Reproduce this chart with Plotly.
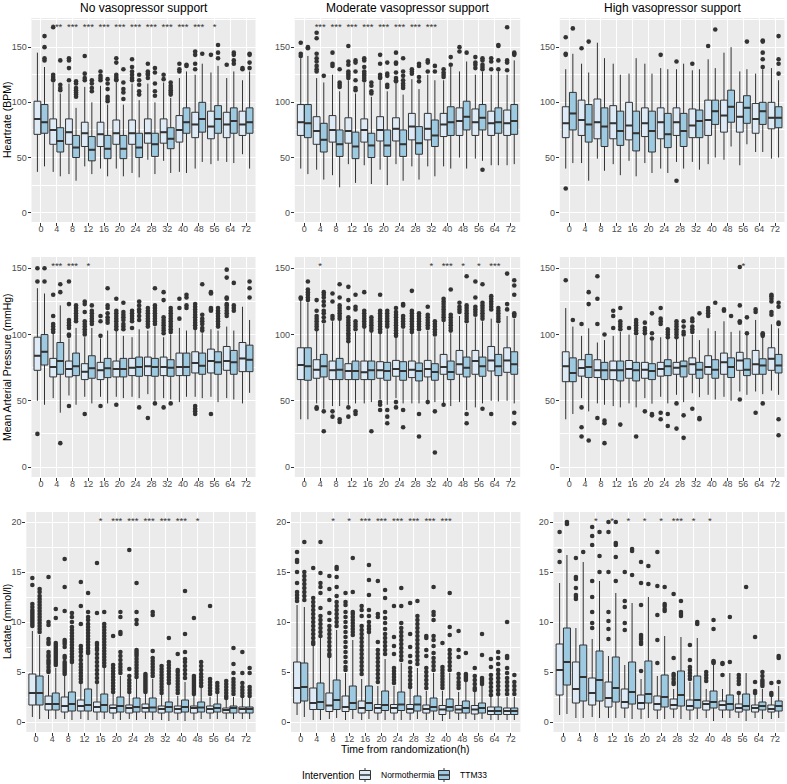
import plotly.graph_objects as go

TIMES = ["0", "4", "8", "12", "16", "20", "24", "28", "32", "40", "48", "56", "64", "72"]
GROUPS = ["Normothermia", "TTM33"]
LEGEND_TITLE = "Intervention"
PANEL_TITLES = ["No vasopressor support", "Moderate vasopressor support", "High vasopressor support"]
ROW_TITLES = ["Heartrate (BPM)", "Mean Arterial Pressure (mmHg)", "Lactate (mmol/l)"]
X_TITLE = "Time from randomization(h)"

# box stats per time point: [lower whisker, q1, median, q3, upper whisker]
HR_NONE_NORMO = [[37,71,85,101,145],[37,62,75,85,118],[35,62,73,85,117],[42,60,72,82,114],[40,60,71,82,115],[40,62,72,84,118],[36,62,72,84,117],[48,63,72,85,117],[47,63,73,85,118],[37,64,75,88,122],[40,68,80,91,125],[44,67,78,92,127],[46,68,80,91,122],[53,70,80,92,120]]
HR_NONE_NORMO_OUT = [[],[168,125,123,121,120],[140,138,131,120],[142,126,122,120],[128,124,122,120],[140,136,125,123,121,120],[139,132,128,125,122,120],[135,128,126,125,122],[125,121],[135,130,128],[146,143,135,130],[143],[134],[131,130]]
HR_NONE_TTM = [[42,72,82,98,132],[33,55,65,77,108],[29,50,59,70,95],[35,47,57,69,100],[33,49,58,70,98],[33,49,58,70,98],[32,50,59,72,102],[35,51,62,72,100],[36,58,67,77,104],[36,72,82,95,128],[46,73,85,100,135],[47,72,85,97,133],[45,72,83,95,128],[40,72,82,95,128]]
HR_NONE_TTM_OUT = [[160,150,140,138],[138,116,113,111],[119,117,113,111,109,107,105],[120,117,113,110],[121,117,112,105,103,101],[130,118,112,109,103],[125,120,116,110,107],[131,127,117,110,106],[118,115,113,111,109,107],[134,133],[144],[152,145,140],[145,143,138,135],[144,143,136,131]]
HR_NONE_STARS = ["","***","***","***","***","***","***","***","***","***","***","*","",""]

HR_MOD_NORMO = [[40,70,82,98,140],[39,62,74,87,122],[34,64,75,88,125],[44,63,74,86,120],[43,64,75,85,118],[39,65,75,87,120],[44,65,76,86,117],[42,66,78,90,121],[42,66,76,90,125],[42,69,80,90,120],[50,70,83,95,128],[49,70,82,94,125],[43,70,81,92,125],[43,70,81,93,125]]
HR_MOD_NORMO_OUT = [[154,144,142],[163,158,144,140,137,133,130,128],[145,135,133],[151,137,134,128,126,124,122],[140,138,132,128,126,124,122,120],[143,135,125,123,122],[145,136,135,127,122,120,119],[130,128,126],[138,136,128],[130,127,125,123],[150,146],[141,136,134,131],[140,137,130],[168,138,136,129]]
HR_MOD_TTM = [[35,68,81,98,142],[30,55,66,81,118],[23,51,62,75,110],[27,49,60,73,108],[26,50,61,72,105],[25,51,61,75,110],[29,51,62,75,107],[30,53,63,78,112],[33,60,70,84,120],[40,70,82,96,132],[40,75,87,101,137],[47,75,86,98,128],[43,72,82,95,128],[44,71,83,98,138]]
HR_MOD_TTM_OUT = [[150,149],[124],[130,118,116,114],[138,136,128,120,113,111],[118,115,110,108],[136,126,124,116,114],[140,128,124,120,117,115,113],[135,133,123,119],[133,128],[141,134],[145],[140,138,134,132,130,39],[152,151,138,130],[145,144,143]]
HR_MOD_STARS = ["","***","***","***","***","***","***","***","***","","","","",""]

HR_HIGH_NORMO = [[40,68,81,96,130],[45,70,84,102,135],[49,67,82,103,154],[44,67,81,97,135],[47,66,79,100,126],[45,69,81,95,135],[40,67,82,95,131],[46,70,82,95,130],[46,68,79,94,129],[44,70,84,102,139],[48,73,88,102,145],[43,73,87,100,128],[55,72,85,99,126],[49,76,86,100,131]]
HR_HIGH_NORMO_OUT = [[159,144,143,22],[149],[],[],[],[],[143],[137,29],[135],[151],[],[],[],[]]
HR_HIGH_TTM = [[45,75,90,109,144],[29,64,80,98,127],[38,60,78,95,140],[34,61,74,92,125],[33,56,72,92,140],[36,55,74,92,126],[36,59,71,90,130],[40,60,74,90,135],[39,68,83,93,130],[50,80,92,102,131],[60,82,96,111,150],[62,81,95,106,130],[55,80,92,100,130],[50,77,86,96,120]]
HR_HIGH_TTM_OUT = [[167],[155],[],[],[],[],[],[],[],[166],[],[155],[156,155,145,139,132],[160,139,135,126]]
HR_HIGH_STARS = [""] * 14

MAP_NONE_NORMO = [[50,73,84,98,135],[52,68,75.5,82,101],[54,68,74,80,97],[53,66,72,78,98],[53,66,73,79,97],[53,68,74,80,103],[53,69,75,82,98],[55,69,76,83,103],[52,69,75.5,83,98],[49,69,75.5,86,105],[53,71,78.5,87,104],[53,71,80,89,104],[52,73,80,91,106],[48,72,82,94,121]]
MAP_NONE_NORMO_OUT = [[150,140,25],[130,114,108,106,104,102],[140,123,111,109,107,105,100,99,46],[125,123,117,110,108,106,104,102,100,40],[114,110,99,46],[127,118,116,114,112,110,108,106,104,47],[118,116,114,112,110,105],[120,118,116,114,112,110,108,106,37],[132,126,113,111,109,107,105,103,101,45],[127,120,112],[123,121,119,117,115,113,111,109,107,105,46,44,42,40],[132,131,120,119,118,40],[149,143,128,127,123,122,120,118,116,114],[]]
MAP_NONE_TTM = [[47,77,87,100,131],[41,70,80,94,122],[47,69,76,86,105],[48,67,74.5,84,105],[48,67.5,74.5,82,103],[52,68,74,82,99],[52,68.5,75.5,83,104],[50,68.5,75.5,82,106],[51,68.5,75,81,100],[53,69,75.5,86,103],[52,70,76.5,86,101],[49,70,79,87,103],[51,70,79,88,103],[56,72,81,92,111]]
MAP_NONE_TTM_OUT = [[150,140],[138,132,18],[122,120,118,116,114,112,110],[122,118,116,114,112,110,108],[135,122,120,116,113,111,109],[124,117,115,113,111,108,106,104],[125,122,119,117,114,111,45],[135,122,120,118,116,114,112,110,108,48],[120,118,116,114,112,110,108,106,104,102,48],[130,128,122,120],[138,115,112,110,108,105,103],[120,118,116,114,112,110,108,106],[139,122,120,118],[140,135,128]]
MAP_NONE_STARS = ["","***","***","*","","","","","","","","","",""]

MAP_MOD_NORMO = [[36,66,77,90,126],[48,67,73.5,81,103],[46,66,73,80,110],[47,66,72.5,78,94],[48,66,71.5,80,105],[51,67,73,79.5,101],[52,68.5,74,80.5,98],[48,67.5,73.5,80,101],[50,68,74,80.5,103],[48,70,75.5,85,110],[49,70,77.5,88,114],[45,70,80,88,113],[50,72.5,80.5,91,112],[50,71.5,80.5,90,114]]
MAP_MOD_NORMO_OUT = [[128,127],[126,118,114,112,110,108,106,104,45,44],[131,125,114,112,42,38],[136,126,120,113,111,109,107,105,103,101,99,97,95,45,38],[132,118,116,114,112,110,108,106],[130,118,116,114,112,110,108,106,104,102,49,47,43],[120,117,115,113,111,109,107,105,103,101,99,49,45],[133,118,116,114,112,110,108,106,104,102],[121,115,113,111,109,107,105,49],[127,125,123,121,119,117,115,113,111,47],[124,121,119,117],[140,128,121,119,117,115],[129,127,125,123,121,119,40],[146,123,119]]
MAP_MOD_TTM = [[36,65.5,76,90,124],[44,68,76,85,108],[46,66,73.5,82,111],[48,66,72.5,80,102],[49,66,73,80,102],[47,65.5,72.5,79,104],[48,65.5,72.5,79.5,104],[48,65,72.5,78.5,102],[49,65.5,71.8,78,98],[46,66,71.8,80,101],[43,68,75,83,108],[48,68.5,76,83,110],[49.5,69,76,85,108],[48,70,77.5,87,112]]
MAP_MOD_TTM_OUT = [[140,134,132,130,128,126],[132,130,128,125,122,118,116,113,110,42,27],[138,128,122,120,118,116,114,112,36,34],[130,121,119,110,108,106,104,42,40],[113,111,109,107,105,103,27],[118,116,114,112,110,108,106,43,38,33],[123,122,114,112,110,108,106,43,30],[116,114,112,110,108,106,104,40,23],[110,108,106,104,102,100,42,11],[134,115,113,111,109,107,105,103],[144,122,120,118,116,114,112,110,40,33],[138,124,122,120,118,116,114,112,44],[120,118,116,114,112,110],[141,137,130,116,115,114,41,33]]
MAP_MOD_STARS = ["","*","","","","","","","*","***","*","*","***",""]

MAP_HIGH_NORMO = [[36,64.4,76,87,120],[52,68.6,74.7,81,99],[48,67.6,73,81,94],[46,66,73,80,99],[48,67,74,80.4,100],[52,67,73.5,79,100],[53,68.6,74,79,98],[54.5,70,75,79,97],[55.7,70,77.5,82.4,99.8],[54.5,70,75.5,84,104.7],[53,70,79,86,110],[57,73,80.4,86.6,103],[57,70,77.5,88,111],[57.7,73,81.7,90,107.7]]
MAP_HIGH_NORMO_OUT = [[141],[108,45,30,23],[144,127,108,37],[118,114,105],[105],[109,105,103,101,42],[120,112,110,108,41,36],[110,108,106,104,102,100,98,48,29],[112,110,106,104,102,44],[120,118,116,114],[119,118],[151,122,110,109,51],[119,117,41],[130,129,127,125,117,115]]
MAP_HIGH_TTM = [[40,64.4,71,82.4,106],[42,67.6,75.5,85,104.7],[47,66,73,79,95.8],[45,65,73,80,102],[45,65,73,79,99],[47.8,66,72.5,78,95.8],[48,69,76,81,97],[49,68,76,80,98],[52.7,67,73.5,79,95.8],[51,67,73.5,81,102.7],[50,67.6,75.5,82.4,102],[54.5,69,73.5,81.7,100],[55,70,76.7,81.7,98],[54.5,71,76.7,85,104.7]]
MAP_HIGH_TTM_OUT = [[111],[132,123,20],[100,35,33,18],[120,110,108,106,104,32],[111,109,107,105,103,101,23],[116,101,97,40,39],[104,102,100,98,40,31],[110,106,102,100,39,22],[116,37,36],[124],[114],[113,101],[101,100,99,48],[124,121,109,108,36,24]]
MAP_HIGH_STARS = ["","","","","","","","","","","","*","",""]

LAC_NONE_NORMO = [[0.5,1.7,2.9,4.8,9.1],[0.3,1.2,1.8,2.6,4.7],[0.3,1.0,1.6,2.5,4.6],[0.3,1.1,1.6,2.2,3.9],[0.2,1.0,1.5,2.0,3.8],[0.3,0.9,1.4,1.7,2.8],[0.3,0.9,1.4,1.7,2.8],[0.3,1.0,1.4,1.8,2.8],[0.2,0.9,1.3,1.6,2.7],[0.2,0.9,1.3,1.6,2.6],[0.2,0.9,1.4,1.6,2.7],[0.3,0.9,1.3,1.6,2.5],[0.3,0.9,1.2,1.4,2.2],[0.3,0.9,1.3,1.5,2.4]]
LAC_NONE_NORMO_OUT = [[14.4,13.7,11.8,11.5,11.2,11.0,10.8,10.6,10.4,10.2,10.0,9.8,9.6],[14.5,10.0,9.7,8.3,8.0,7.8,7.0,6.7,6.5,6.2,6.0,5.8,5.5,5.2,5.0],[16.3,13.5,11.1,8.2,8.0,7.8,7.5,6.6,6.4,6.0,5.8,5.6,5.4,5.2,5.0,4.8],[14.0,11.6,9.8,7.6,7.3,7.0,6.6,6.2,5.8,5.5,5.2,4.9,4.6,4.3,4.0],[15.9,10.9,7.9,7.7,7.4,7.2,6.8,6.4,6.0,5.6,5.2,4.8,4.4,4.0],[8.6,5.7,5.4,5.1,4.8,4.5,4.2,3.9,3.6,3.3,3.0],[17.2,5.3,4.6,4.2,3.9,3.6,3.3,3.0],[4.8,4.6,4.4,4.2,4.0,3.8,3.6,3.4,3.2,3.0],[5.6,5.3,5.0,4.7,4.4,4.1,3.8,3.5,3.2,2.9],[6.8,5.2,5.0,4.7,4.4,4.1,3.8,3.5,3.2,2.9],[10.4,4.6,4.4,4.2,4.0,3.8,3.6,3.4,3.2,3.0,2.8],[11.6,4.3,4.0,3.7,3.4,3.1,2.8],[4.1,3.8,3.5,3.2,2.9,2.6,2.4],[7.0,4.9,3.9,3.5,3.2,2.9,2.6]]
LAC_NONE_TTM = [[0.3,1.7,2.9,4.6,8.7],[0.3,1.2,1.8,2.9,5.4],[0.2,1.1,1.8,3.0,5.8],[0.2,1.1,1.7,3.3,6.7],[0.3,1.0,1.7,2.8,5.5],[0.2,1.0,1.6,2.5,4.6],[0.2,1.0,1.5,2.4,4.3],[0.2,1.0,1.45,2.4,4.3],[0.1,1.0,1.5,2.0,3.7],[0.1,1.0,1.5,2.2,4.0],[0.3,1.0,1.45,2.0,3.5],[0.3,1.0,1.4,1.8,2.8],[0.3,0.9,1.4,1.6,2.5],[0.3,0.9,1.3,1.5,2.4]]
LAC_NONE_TTM_OUT = [[13.3,13.0,12.6,12.3,12.0,11.7,11.4,11.1,10.8,10.5,10.2,9.9,9.6,9.3,9.0],[11.3,10.4,7.9,7.7,7.5,7.3,7.1,6.9,6.7,6.5,6.3,6.1,5.9,5.7],[10.9,10.5,10.0,9.5,9.2,8.9,8.6,8.3,8.0,7.7,7.4,7.1,6.8,6.5,6.2,6.0],[12.9,11.0,10.5,10.2,9.8,9.5,9.2,8.9,8.6,8.3,8.0,7.7,7.4,7.1,6.9],[11.0,9.8,9.5,9.2,8.9,8.6,8.3,8.0,7.7,7.4,7.1,6.8,6.5,6.2,5.9,5.6],[11.0,10.5,9.0,8.8,7.0,6.6,6.2,5.8,5.5,5.2,4.9],[13.9,11.0,10.2,9.8,7.2,7.0,6.8,6.6,6.3,6.0,5.7,5.4,5.1,4.8,4.5],[11.0,10.7,7.1,6.4,6.1,5.8,5.5,5.2,4.9,4.6],[8.4,6.0,5.7,5.4,5.1,4.8,4.5,4.2,3.9],[13.1,8.8,7.0,6.3,6.0,5.6,5.2,4.8,4.4],[6.0,5.6,5.2,4.8,4.5,4.2,3.9,3.6],[3.9,3.6,3.3,3.0],[7.4,5.8,4.9,4.3,4.0,3.7,3.4,3.1,2.8],[5.4,4.9,3.5,3.2,2.9,2.6]]
LAC_NONE_STARS = ["","","","","*","***","***","***","***","***","*","","",""]

LAC_MOD_NORMO = [[0.7,1.9,3.4,6.0,11.7],[0.2,1.25,1.9,3.4,7.6],[0.3,1.05,1.65,2.9,6.4],[0.2,1.05,1.5,2.6,4.9],[0.2,0.9,1.4,2.1,4.3],[0.2,0.9,1.4,1.75,3.6],[0.2,0.9,1.4,1.75,3.6],[0.2,0.9,1.3,1.75,3.3],[0.2,0.9,1.3,1.7,3.1],[0.1,0.75,1.25,1.65,3.1],[0.2,0.9,1.25,1.65,3.0],[0.2,0.8,1.25,1.65,3.0],[0.2,0.75,1.1,1.5,2.5],[0.2,0.75,1.1,1.4,2.5]]
LAC_MOD_NORMO_OUT = [[17.0,16.2,16.0,15.0,13.9,13.0,12.7,12.4,12.1],[15.4,12.4,12.0,11.6,11.2,10.8,10.4,10.0,9.6,9.2,8.8,8.4,8.0,7.8],[14.6,13.3,12.2,10.9,10.2,9.6,9.2,8.8,8.4,8.0,7.6,7.2,6.8,6.6],[12.9,12.0,11.7,11.0,10.5,10.0,9.5,9.0,8.5,8.0,7.5,7.0,6.5,6.0,5.5,5.2],[11.6,11.2,10.6,9.6,9.2,8.8,8.4,8.0,7.6,7.2,6.8,6.4,6.0,5.6,5.2,4.8],[14.1,10.8,10.5,8.0,7.2,6.8,6.4,6.0,5.6,5.2,4.8,4.4,4.0],[11.6,8.5,7.6,6.8,5.4,5.1,4.8,4.5,4.2,3.9],[11.9,8.8,7.5,6.6,6.0,5.4,5.0,4.6,4.2,3.8,3.5],[8.6,8.4,7.2,6.6,5.4,5.0,4.6,4.2,3.8,3.4],[7.9,5.5,5.2,4.9,4.6,4.3,4.0,3.7,3.4],[9.1,7.2,6.5,4.8,4.4,4.0,3.7,3.4],[5.4,4.6,4.2,3.8,3.4,3.2],[6.3,5.5,4.7,4.3,3.9,3.5,3.1,2.7],[10.0,6.6,6.4,5.4,4.9,4.4,4.0,3.6,3.2,2.8]]
LAC_MOD_TTM = [[0.5,2.1,3.5,5.9,11.5],[0.2,1.25,2.0,3.9,8.4],[0.4,1.25,2.2,4.2,9.2],[0.3,1.25,1.9,3.6,8.2],[0.3,1.15,1.9,3.6,8.8],[0.2,1.15,1.7,3.1,6.3],[0.2,1.15,1.75,3.0,5.9],[0.3,1.1,1.75,2.6,5.4],[0.2,1.1,1.5,2.4,4.9],[0.3,1.1,1.5,2.3,4.9],[0.3,0.9,1.4,2.1,4.0],[0.3,0.9,1.4,1.9,3.6],[0.2,0.75,1.1,1.5,2.6],[0.2,0.75,1.1,1.4,2.5]]
LAC_MOD_TTM_OUT = [[18.0,15.0,14.6,14.2,13.8,13.4,13.0,12.6,12.2],[18.0,14.9,13.9,13.5,12.9,11.4,10.6,10.2,9.8,9.4,9.0,8.6],[15.5,15.3,14.5,13.5,12.6,12.0,11.6,11.2,10.8,10.4,10.0,9.6],[16.4,13.0,11.0,10.8,10.5,10.2,9.9,9.6,9.3,9.0,8.7],[15.7,14.2,12.7,11.2,10.6,10.0,9.6,9.3,9.0],[13.2,12.4,11.0,10.4,9.9,9.3,8.8,8.4,8.0,7.6,7.2,6.8],[13.4,11.6,9.9,9.4,9.0,8.6,8.2,7.8,7.4,7.0,6.6,6.2],[12.1,10.6,10.2,9.8,9.4,9.0,8.6,8.2,7.8,7.4,7.0,6.6,6.2,5.8],[13.5,11.0,10.7,10.2,8.6,8.2,7.6,6.9,6.4,6.0,5.6,5.2],[12.9,9.5,8.7,7.2,6.8,6.4,6.0,5.6,5.2],[6.9,4.8,4.6,4.4,4.2],[8.8,6.7,4.4,4.2,4.0,3.8],[7.0,6.4,5.8,5.2,4.8,4.4,4.0,3.6,3.2,2.8],[4.7,4.0,3.6,3.2,2.8]]
LAC_MOD_STARS = ["","","*","*","***","***","***","***","***","***","","","",""]

LAC_HIGH_NORMO = [[0.7,2.7,5.2,7.8,13.9],[0.4,1.9,3.3,6.0,9.4],[0.5,1.7,2.9,4.4,8.3],[0.4,1.5,2.4,4.0,6.6],[0.4,1.4,2.0,3.3,5.7],[0.3,1.3,1.9,2.7,4.3],[0.3,1.2,1.8,2.6,4.6],[0.4,1.3,1.7,2.3,3.3],[0.2,1.2,1.6,2.2,4.0],[0.4,1.2,1.8,2.1,3.3],[0.4,1.2,1.7,2.1,3.3],[0.4,1.0,1.4,1.8,2.7],[0.4,1.0,1.4,1.7,2.7],[0.3,1.0,1.3,1.7,2.6]]
LAC_HIGH_NORMO_OUT = [[19.0,17.1,16.0],[16.4,14.5,14.3,13.4,12.7,12.5,12.3],[19.5,18.6,17.7,14.1,12.5,11.0,9.9,9.4],[20.0,19.0,15.0,11.0,10.1,9.3,8.3],[15.0,12.1,11.5,9.9,9.2],[16.0,13.9,11.7,8.7,8.5,8.3,8.0,7.8,5.1],[17.0,13.6,10.7,8.2,5.9],[12.8,6.4,4.8,4.6,4.3,4.0,3.8],[7.7,6.2,5.5,5.2,4.9,4.6,4.3],[5.0,4.7,4.4,4.1],[5.9,5.8,4.7],[4.7,4.4,4.1,3.8,2.9],[8.5,4.0,3.1,2.9],[3.9,2.9,2.7]]
LAC_HIGH_TTM = [[0.8,3.7,6.0,9.4,16.7],[0.4,2.1,4.5,7.7,16.0],[0.4,2.1,4.2,7.1,14.1],[0.4,2.0,3.4,6.5,12.9],[0.3,1.8,3.0,6.0,11.9],[0.4,1.9,2.8,6.1,12.5],[0.3,1.5,2.5,4.7,8.6],[0.3,1.6,2.7,5.1,8.5],[0.3,1.4,2.2,4.6,8.4],[0.1,1.4,2.0,3.1,5.7],[0.4,1.2,1.8,2.7,4.9],[0.1,1.2,1.6,2.8,4.9],[0.3,1.2,1.6,2.0,3.3],[0.4,1.1,1.6,2.1,3.6]]
LAC_HIGH_TTM_OUT = [[20.0,19.8],[17.0],[19.0,16.6,15.0],[20.0,17.9,17.7,16.5,14.1],[17.3,17.1,14.7],[15.6,13.8],[13.5,11.8,11.6,11.3,11.1],[12.1,11.0,10.8,10.6],[10.0,9.8],[10.2,9.3,6.1,6.0,5.9],[10.5,6.0],[13.5],[5.0,4.6,4.2,4.0,3.8,3.6],[6.6,6.4,4.0]]
LAC_HIGH_STARS = ["","","*","*","*","*","*","***","*","*","","","",""]

PANELS = [
    [(HR_NONE_NORMO, HR_NONE_NORMO_OUT, HR_NONE_TTM, HR_NONE_TTM_OUT, HR_NONE_STARS),
     (HR_MOD_NORMO, HR_MOD_NORMO_OUT, HR_MOD_TTM, HR_MOD_TTM_OUT, HR_MOD_STARS),
     (HR_HIGH_NORMO, HR_HIGH_NORMO_OUT, HR_HIGH_TTM, HR_HIGH_TTM_OUT, HR_HIGH_STARS)],
    [(MAP_NONE_NORMO, MAP_NONE_NORMO_OUT, MAP_NONE_TTM, MAP_NONE_TTM_OUT, MAP_NONE_STARS),
     (MAP_MOD_NORMO, MAP_MOD_NORMO_OUT, MAP_MOD_TTM, MAP_MOD_TTM_OUT, MAP_MOD_STARS),
     (MAP_HIGH_NORMO, MAP_HIGH_NORMO_OUT, MAP_HIGH_TTM, MAP_HIGH_TTM_OUT, MAP_HIGH_STARS)],
    [(LAC_NONE_NORMO, LAC_NONE_NORMO_OUT, LAC_NONE_TTM, LAC_NONE_TTM_OUT, LAC_NONE_STARS),
     (LAC_MOD_NORMO, LAC_MOD_NORMO_OUT, LAC_MOD_TTM, LAC_MOD_TTM_OUT, LAC_MOD_STARS),
     (LAC_HIGH_NORMO, LAC_HIGH_NORMO_OUT, LAC_HIGH_TTM, LAC_HIGH_TTM_OUT, LAC_HIGH_STARS)],
]

# ---------------- layout / styling ----------------
W, H = 787, 784
FONT = "Liberation Sans, Arial, sans-serif"
FILLS = ["#DEEBF7", "#9ECAE1"]
EDGE = "#333333"
COL_PX = [[(31.5, 255.5), (294.8, 520.2), (559.8, 784.5)],
          [(31.5, 255.5), (294.8, 520.2), (559.8, 784.5)],
          [(26.3, 255.7), (291.0, 520.4), (553.5, 784.8)]]
ROW_PX = [(18, 222), (257, 477), (512, 732)]
ROW_DTICK = [50, 50, 5]
DODGE = 0.225
BOXW = 0.43

fig = go.Figure()
layout = dict()

for r in range(3):
    row_max = 0
    for c in range(3):
        n, no, t, to, _ = PANELS[r][c]
        for s in n + t:
            row_max = max(row_max, s[4])
        for lst in no + to:
            for v in lst:
                row_max = max(row_max, v)
    pad = row_max * 0.05
    yr = [-pad, row_max + pad]
    for c in range(3):
        k = r * 3 + c + 1
        xa = "x" if k == 1 else f"x{k}"
        ya = "y" if k == 1 else f"y{k}"
        n, no, t, to, stars = PANELS[r][c]
        for g, (stats, outs) in enumerate([(n, no), (t, to)]):
            off = -DODGE if g == 0 else DODGE
            pos = [i + off for i in range(len(TIMES))]
            fig.add_trace(go.Box(
                x=pos,
                lowerfence=[s[0] for s in stats], q1=[s[1] for s in stats],
                median=[s[2] for s in stats], q3=[s[3] for s in stats],
                upperfence=[s[4] for s in stats],
                width=BOXW, whiskerwidth=0, boxpoints=False,
                fillcolor=FILLS[g], line=dict(color=EDGE, width=1),
                name=GROUPS[g], showlegend=False,
                xaxis=xa, yaxis=ya, hoverinfo="skip"))
            # thicker median bar (ggplot style)
            mx, my = [], []
            for i, s in enumerate(stats):
                mx += [i + off - BOXW / 2, i + off + BOXW / 2, None]
                my += [s[2], s[2], None]
            fig.add_trace(go.Scatter(
                x=mx, y=my, mode="lines", line=dict(color=EDGE, width=2),
                showlegend=False, xaxis=xa, yaxis=ya, hoverinfo="skip"))
            ox, oy = [], []
            for i, lst in enumerate(outs):
                for v in lst:
                    ox.append(i + off)
                    oy.append(v)
            fig.add_trace(go.Scatter(
                x=ox, y=oy, mode="markers",
                marker=dict(size=4.6, color=EDGE),
                showlegend=False, xaxis=xa, yaxis=ya, hoverinfo="skip"))
        sx = [i for i, s in enumerate(stars) if s]
        st = [s for s in stars if s]
        if sx:
            fig.add_trace(go.Scatter(
                x=sx, y=[row_max] * len(sx), text=st, mode="text",
                textfont=dict(size=9.5, color="#333333", family=FONT),
                showlegend=False, xaxis=xa, yaxis=ya, hoverinfo="skip"))
        x0, x1 = COL_PX[r][c]
        y0, y1 = ROW_PX[r]
        key_x = "xaxis" if k == 1 else f"xaxis{k}"
        key_y = "yaxis" if k == 1 else f"yaxis{k}"
        layout[key_x] = dict(
            domain=[x0 / W, x1 / W], anchor=ya, range=[-0.6, len(TIMES) - 0.4],
            tickmode="array", tickvals=list(range(len(TIMES))), ticktext=TIMES,
            showgrid=True, gridcolor="white", gridwidth=1.1, zeroline=False,
            ticks="outside", ticklen=3, tickwidth=1, tickcolor=EDGE,
            ticklabelstandoff=-5,
            tickfont=dict(size=9, color="#4D4D4D", family=FONT), showline=False,
            fixedrange=True)
        layout[key_y] = dict(
            domain=[(H - y1) / H, (H - y0) / H], anchor=xa, range=yr,
            tickmode="linear", tick0=0, dtick=ROW_DTICK[r],
            showgrid=True, gridcolor="white", gridwidth=1.1, zeroline=False,
            minor=dict(tickmode="linear", tick0=0, dtick=ROW_DTICK[r] / 2,
                       showgrid=True, gridcolor="white", gridwidth=0.5, ticks=""),
            ticks="outside", ticklen=3, tickwidth=1, tickcolor=EDGE,
            ticklabelstandoff=-1,
            tickfont=dict(size=9, color="#4D4D4D", family=FONT), showline=False,
            fixedrange=True)

annotations = []
shapes = []
for c in range(3):
    x0, x1 = COL_PX[0][c]
    annotations.append(dict(text=PANEL_TITLES[c], x=(x0 + x1) / 2 / W, y=(H - 8) / H,
                            xref="paper", yref="paper", showarrow=False,
                            xanchor="center", yanchor="middle",
                            font=dict(size=12, color="black", family=FONT)))
for r in range(3):
    y0, y1 = ROW_PX[r]
    annotations.append(dict(text=ROW_TITLES[r], x=7 / W, y=(H - (y0 + y1) / 2) / H,
                            xref="paper", yref="paper", showarrow=False, textangle=-90,
                            xanchor="center", yanchor="middle",
                            font=dict(size=10.5, color="black", family=FONT)))
bx0, bx1 = COL_PX[2][1]
annotations.append(dict(text=X_TITLE, x=(bx0 + bx1) / 2 / W, y=(H - 749) / H,
                        xref="paper", yref="paper", showarrow=False,
                        xanchor="center", yanchor="middle",
                        font=dict(size=10.5, color="black", family=FONT)))

# legend (ggplot-style, drawn in paper space)
LEG_Y = 775
annotations.append(dict(text=LEGEND_TITLE, x=300 / W, y=(H - LEG_Y) / H,
                        xref="paper", yref="paper", showarrow=False,
                        xanchor="left", yanchor="middle",
                        font=dict(size=10, color="black", family=FONT)))
key_cx = [365.0, 444.0]
label_x = [379, 458]


def px(v):
    return v / W


def py(v):
    return (H - v) / H


for g in range(2):
    cx = key_cx[g]
    shapes.append(dict(type="line", xref="paper", yref="paper",
                       x0=px(cx), x1=px(cx), y0=py(LEG_Y - 7), y1=py(LEG_Y + 7),
                       line=dict(color=EDGE, width=1)))
    shapes.append(dict(type="rect", xref="paper", yref="paper",
                       x0=px(cx - 5.5), x1=px(cx + 5.5), y0=py(LEG_Y - 4.5), y1=py(LEG_Y + 4.5),
                       fillcolor=FILLS[g], line=dict(color=EDGE, width=1)))
    shapes.append(dict(type="line", xref="paper", yref="paper",
                       x0=px(cx - 5.5), x1=px(cx + 5.5), y0=py(LEG_Y), y1=py(LEG_Y),
                       line=dict(color=EDGE, width=1.5)))
    annotations.append(dict(text=GROUPS[g], x=label_x[g] / W, y=(H - LEG_Y) / H,
                            xref="paper", yref="paper", showarrow=False,
                            xanchor="left", yanchor="middle",
                            font=dict(size=8.5, color="black", family=FONT)))

fig.update_layout(
    width=W, height=H, autosize=False,
    margin=dict(l=0, r=0, t=0, b=0),
    paper_bgcolor="white", plot_bgcolor="#EBEBEB",
    font=dict(family=FONT, color="black"),
    boxmode="overlay", showlegend=False,
    annotations=annotations, shapes=shapes,
    **layout)

fig.write_html("out.html", config={"displayModeBar": False},
               post_script="document.body.style.margin='0px';document.body.style.padding='0px';")
